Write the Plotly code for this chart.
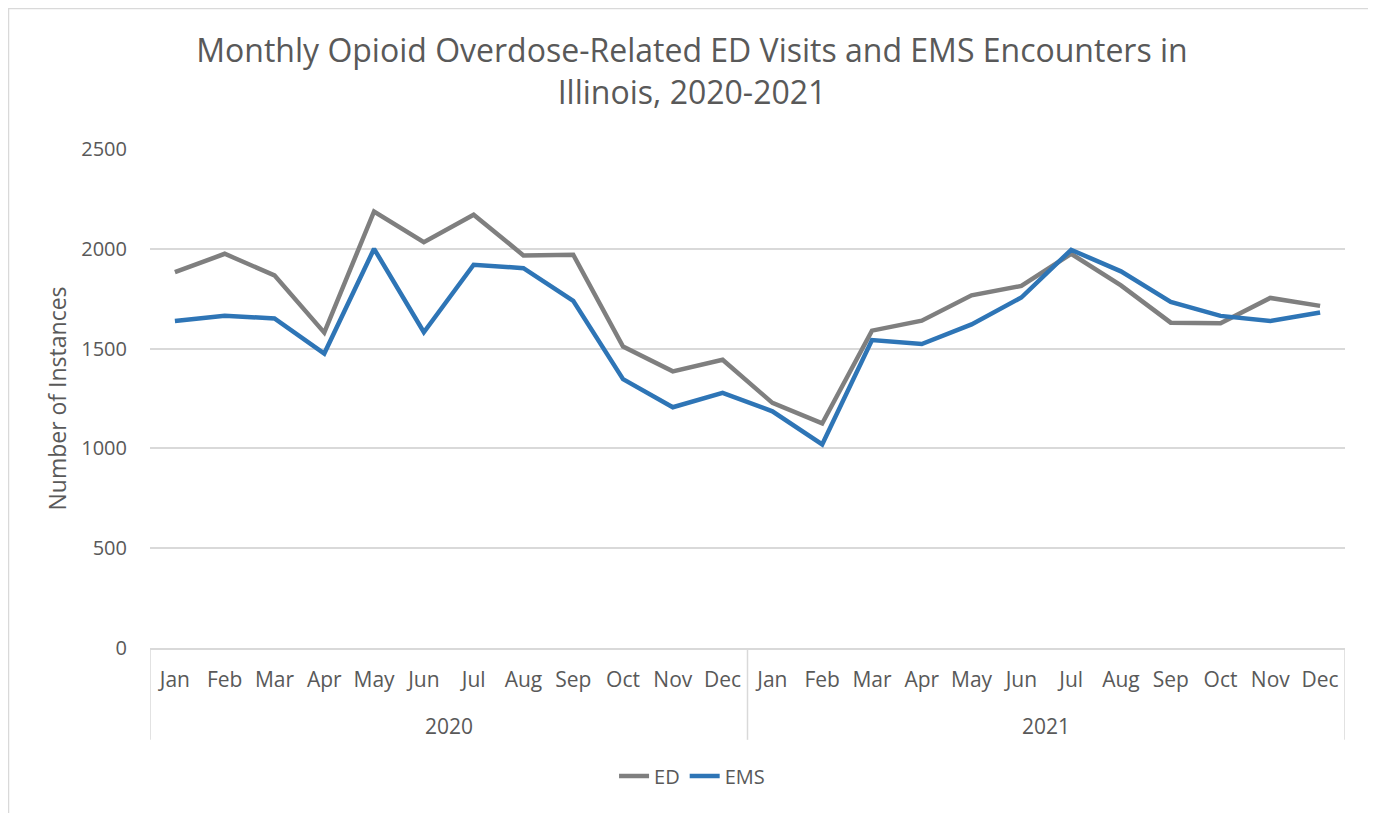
import plotly.graph_objects as go

years = ["2020", "2021"]
months = ["Jan", "Feb", "Mar", "Apr", "May", "Jun",
          "Jul", "Aug", "Sep", "Oct", "Nov", "Dec"]

ed = [1883, 1975, 1867, 1580, 2187, 2033, 2171, 1967, 1970, 1510, 1386, 1444,
      1228, 1125, 1590, 1640, 1767, 1814, 1975, 1817, 1630, 1627, 1754, 1714]
ems = [1638, 1665, 1651, 1475, 2000, 1582, 1920, 1903, 1739, 1347, 1206, 1278,
       1186, 1020, 1543, 1523, 1621, 1756, 1995, 1887, 1734, 1664, 1638, 1681]

# one category per month, shown with the month name only
cats = [f"{y} {m}" for y in years for m in months]
labels = months * len(years)

font = "Open Sans"
text_grey = "#595959"
line_grey = "#d9d9d9"

fig = go.Figure()
fig.add_trace(go.Scatter(x=cats, y=ed, name="ED", mode="lines",
                         line=dict(color="#7f7f7f", width=4.5)))
fig.add_trace(go.Scatter(x=cats, y=ems, name="EMS", mode="lines",
                         line=dict(color="#2e75b6", width=4.5)))

fig.update_layout(
    width=1368, height=805,
    margin=dict(l=142, r=31, t=141, b=165, autoexpand=False),
    paper_bgcolor="white", plot_bgcolor="white",
    font=dict(family=font, color=text_grey, size=20),
    title=dict(text="Monthly Opioid Overdose-Related ED Visits and EMS Encounters in<br>Illinois, 2020-2021",
               x=0.5, xanchor="center", yref="container", y=0.933, yanchor="top",
               font=dict(family=font, size=32, color=text_grey)),
    showlegend=True,
    legend=dict(orientation="h", x=0.4536, xanchor="center",
                y=-0.2565, yanchor="middle", font=dict(size=20, color=text_grey)),
    xaxis=dict(type="category", range=[-0.5, len(cats) - 0.5],
               tickmode="array", tickvals=cats, ticktext=labels, tickangle=0,
               showline=True, linecolor=line_grey, linewidth=1.5,
               tickfont=dict(size=21, color=text_grey), ticklabelstandoff=12,
               showgrid=False, ticks=""),
    yaxis=dict(range=[0, 2500], dtick=500, showgrid=True, gridcolor=line_grey, gridwidth=1.5,
               zeroline=False, tickfont=dict(size=20, color=text_grey), ticklabelstandoff=22,
               title=dict(text="Number of Instances", font=dict(size=23, color=text_grey), standoff=8)),
)

# year group labels and dividers under the month labels
for i, y in enumerate(years):
    fig.add_annotation(x=i * 12 + 5.5, xref="x", y=-0.156, yref="paper", yanchor="middle",
                       text=y, showarrow=False, font=dict(size=21, color=text_grey))
for k in range(len(years) + 1):
    fig.add_shape(type="line", xref="x", yref="paper", x0=k * 12 - 0.5, x1=k * 12 - 0.5,
                  y0=0, y1=-0.184, line=dict(color=line_grey, width=1.5))

# thin outer chart border (bottom edge runs past the picture)
fig.add_shape(type="rect", xref="paper", yref="paper",
              x0=-141.5 / 1195, x1=1222 / 1195, y0=-180 / 499, y1=639.5 / 499,
              line=dict(color=line_grey, width=1.5), fillcolor="rgba(0,0,0,0)", layer="below")

fig.write_html("out.html")
